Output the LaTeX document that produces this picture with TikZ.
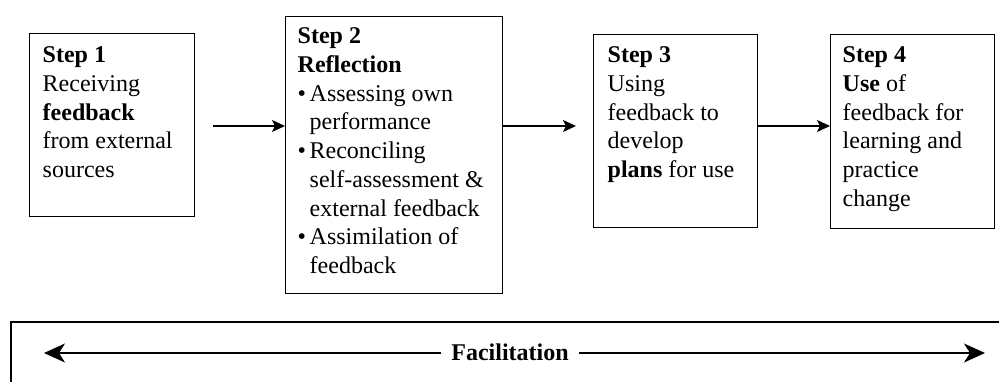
\documentclass[tikz,border=0pt]{standalone}
\usepackage{fontspec}
\setmainfont{Liberation Serif}
\usetikzlibrary{arrows.meta}
\setlength{\parskip}{0pt}
\newcommand{\bitem}[1]{\par\hangindent=12pt\hangafter=1\noindent\makebox[12pt][l]{•}#1}
\newcommand{\stepbody}[4]{\begin{minipage}[c][#1][t]{#2}\raggedright\fontsize{24}{28.75}\selectfont\vspace*{#3}#4\par\end{minipage}}
\tikzset{
  stepbox/.style={draw, line width=1.4pt, inner ysep=0pt, anchor=north west},
  smallarrow/.style={line width=1.3pt, -{Stealth[length=13pt,width=12pt,inset=3pt]}},
  bigarrow/.style={line width=1.3pt, -{Stealth[length=21pt,width=19pt,inset=6pt]}},
  factext/.style={font=\bfseries\fontsize{24}{28}\selectfont, inner sep=0pt, anchor=base}
}
\begin{document}
\begin{tikzpicture}[x=1pt,y=-1pt]
\useasboundingbox (0,0) rectangle (999,381);
\node[stepbox, inner xsep=13pt] (s1) at (29,33) {\stepbody{183pt}{139pt}{13pt}{\textbf{Step 1}\newline Receiving\newline \textbf{feedback}\newline from external\newline sources}};
\node[stepbox, inner xsep=12pt] (s2) at (285,16) {\stepbody{277pt}{193pt}{11pt}{\textbf{Step 2}\newline \textbf{Reflection}\bitem{Assessing own\newline performance}\bitem{Reconciling\newline self-assessment \&\newline external feedback}\bitem{Assimilation of\newline feedback}}};
\node[stepbox, inner xsep=14pt] (s3) at (593,34) {\stepbody{193pt}{136pt}{12pt}{\textbf{Step 3}\newline Using\newline feedback to\newline develop\newline \textbf{plans} for use}};
\node[stepbox, inner xsep=12pt] (s4) at (830,34) {\stepbody{194pt}{140pt}{12pt}{\textbf{Step 4}\newline \textbf{Use} of\newline feedback for\newline learning and\newline practice\newline change}};
\coordinate (ay) at (0,126);
\draw[smallarrow] ([xshift=18pt]s1.east |- ay) -- (s2.west |- ay);
\draw[smallarrow] (s2.east |- ay) -- ([xshift=-17pt]s3.west |- ay);
\draw[smallarrow] (s3.east |- ay) -- (s4.west |- ay);
% facilitation frame
\draw[line width=1.4pt] (1010,322) -- (11,322) -- (11,395);
\node[factext] (fac) at (510,360) {Facilitation};
\coordinate (fl) at (44,353);
\coordinate (fr) at (985,353);
\draw[bigarrow] ([xshift=-10pt]fac.west |- fl) -- (fl);
\draw[bigarrow] ([xshift=10pt]fac.east |- fr) -- (fr);
\end{tikzpicture}
\end{document}
